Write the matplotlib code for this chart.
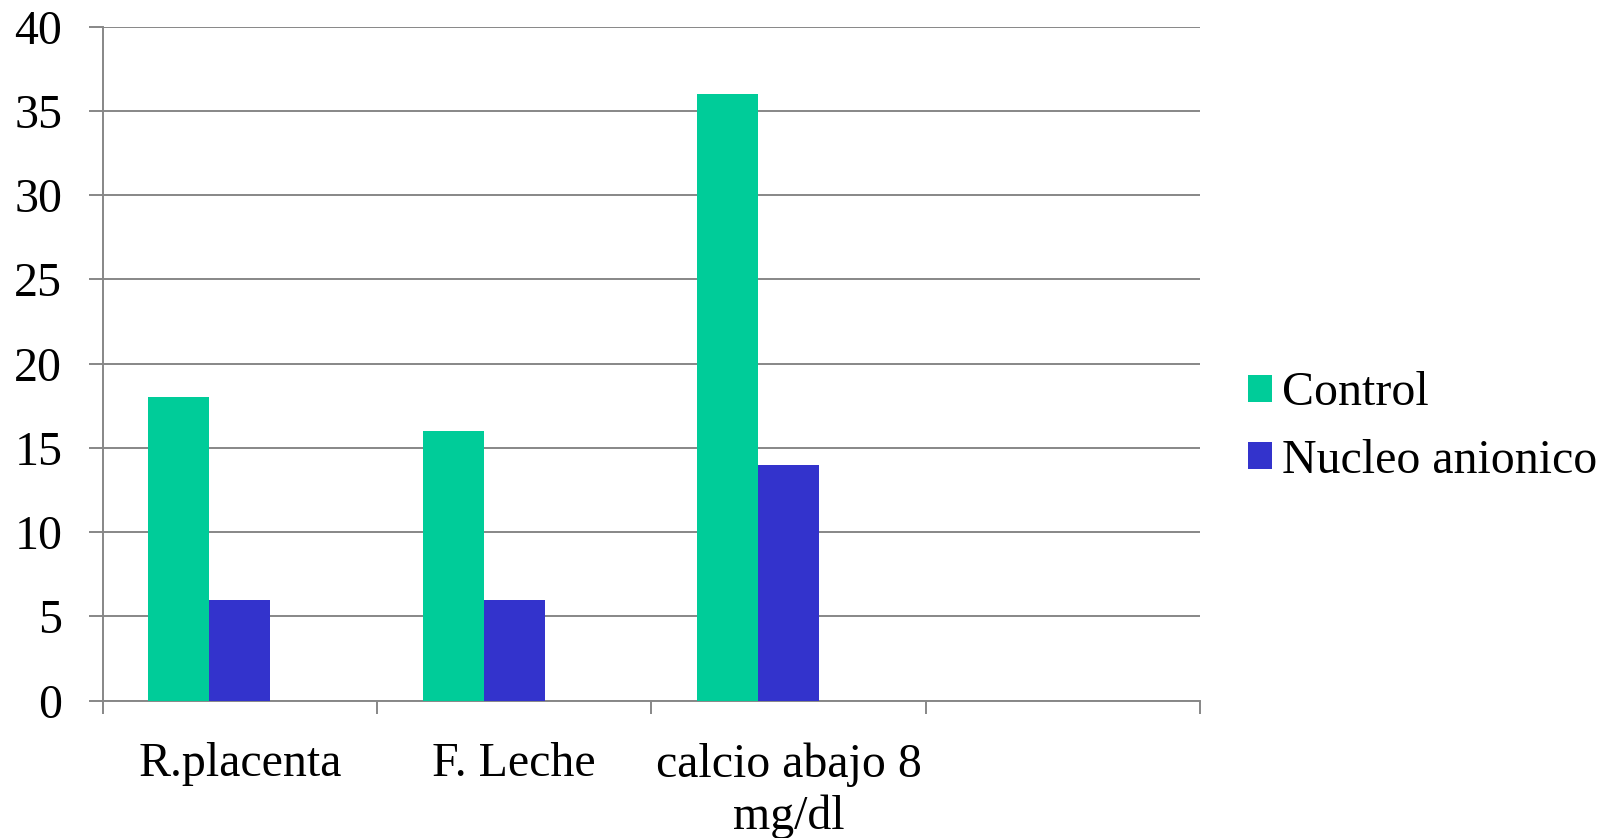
import matplotlib
matplotlib.use("Agg")
import matplotlib.pyplot as plt
from matplotlib.patches import Patch
import numpy as np

categories = ["R.placenta", "F. Leche", "calcio abajo 8\nmg/dl", ""]
control = [18, 16, 36]
nucleo = [6, 6, 14]
series_names = ["Control", "Nucleo anionico"]
colors = ["#00CC99", "#3333CC"]
y_ticks = [0, 5, 10, 15, 20, 25, 30, 35, 40]

plt.rcParams["font.family"] = ["Liberation Serif", "DejaVu Serif"]
FS = 34.5
GRID = "#878787"

fig = plt.figure(figsize=(16.11, 8.38), dpi=100)
ax = fig.add_axes([0.0637, 0.1639, 0.6812, 0.8042])

# three series slots per category with a 150% gap -> bar width 1/4.5
w = 1 / 4.5
x = np.arange(len(control))
ax.bar(x - w, control, width=w, color=colors[0], label=series_names[0], zorder=3)
ax.bar(x, nucleo, width=w, color=colors[1], label=series_names[1], zorder=3)

ax.set_xlim(-0.5, len(categories) - 0.5)
ax.set_ylim(0, 40)
ax.set_yticks(y_ticks)
ax.set_yticklabels([str(t) for t in y_ticks], fontsize=FS)
ax.yaxis.grid(True, color=GRID, linewidth=1.4, zorder=0)
ax.tick_params(axis="y", length=10, width=1.4, color=GRID, pad=19)

ax.set_xticks(np.arange(len(categories)))
ax.set_xticklabels(categories, fontsize=FS, linespacing=1.22)
ax.set_xticks(np.arange(len(categories) + 1) - 0.5, minor=True)
ax.tick_params(axis="x", which="major", length=0, pad=30)
ax.tick_params(axis="x", which="minor", length=9.5, width=1.4, color=GRID)

for s in ["top", "right"]:
    ax.spines[s].set_visible(False)
for s in ["left", "bottom"]:
    ax.spines[s].set_color(GRID)
    ax.spines[s].set_linewidth(1.4)

handles = [Patch(facecolor=c, edgecolor="none") for c in colors]
fig.legend(handles, series_names, loc="center left",
           bbox_to_anchor=(0.7626, 0.4905), frameon=False, fontsize=FS,
           handlelength=0.5, handleheight=0.5, handletextpad=0.22,
           labelspacing=0.49, borderaxespad=0)

fig.savefig("out.png", dpi=100, facecolor="white")
